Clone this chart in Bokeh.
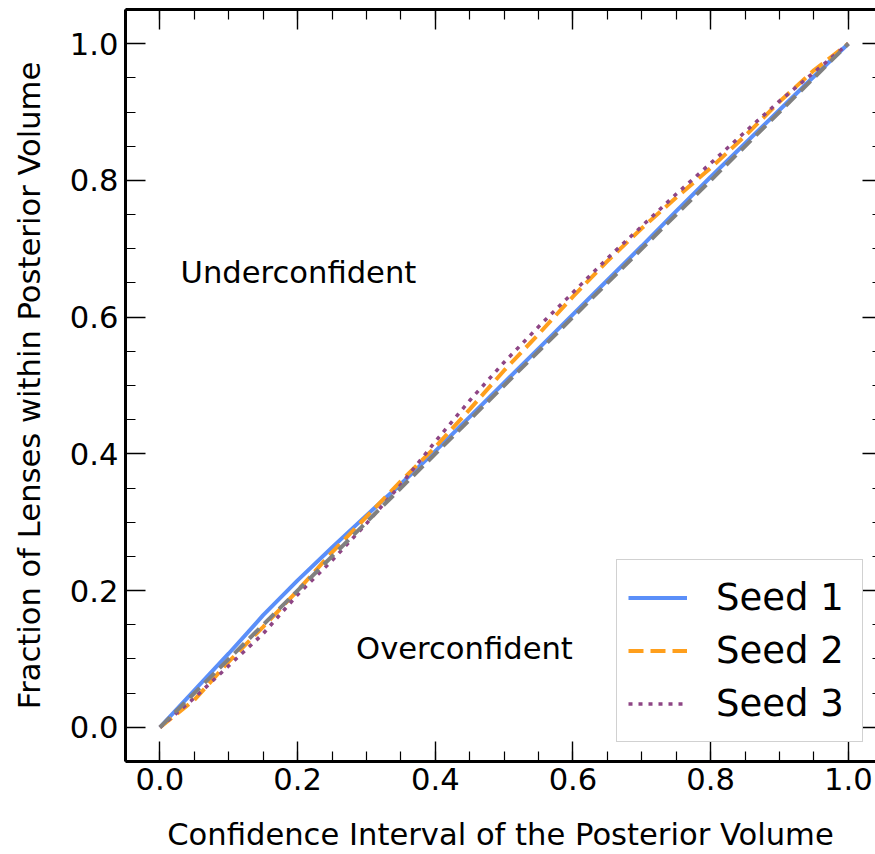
from bokeh.plotting import figure
from bokeh.models import (Range1d, LinearAxis, SingleIntervalTicker, PrintfTickFormatter,
                          CustomJSTickFormatter, Legend, LegendItem)
from bokeh.core.properties import value
from bokeh.embed import file_html
from bokeh.resources import INLINE

# ---- data ----
conf = [0.00, 0.05, 0.10, 0.15, 0.20, 0.25, 0.30, 0.35, 0.40, 0.45, 0.50,
        0.55, 0.60, 0.65, 0.70, 0.75, 0.80, 0.85, 0.90, 0.95, 1.00]
seed1 = [0.000, 0.054, 0.108, 0.164, 0.215, 0.263, 0.310, 0.356, 0.404, 0.454, 0.504,
         0.554, 0.604, 0.654, 0.704, 0.755, 0.805, 0.854, 0.903, 0.952, 1.000]
seed2 = [0.000, 0.040, 0.096, 0.147, 0.200, 0.256, 0.308, 0.360, 0.410, 0.465, 0.522,
         0.575, 0.630, 0.682, 0.730, 0.775, 0.818, 0.865, 0.915, 0.961, 1.000]
seed3 = [0.000, 0.043, 0.090, 0.137, 0.194, 0.244, 0.298, 0.355, 0.418, 0.478, 0.534,
         0.586, 0.636, 0.686, 0.733, 0.780, 0.825, 0.871, 0.916, 0.958, 1.000]
diag_x = [0.0, 1.0]
diag_y = [0.0, 1.0]
series_names = ["Seed 1", "Seed 2", "Seed 3"]

note_text = ["Underconfident", "Overconfident"]
note_x = [0.03, 0.285]
note_y = [0.665, 0.115]

FONT = "DejaVu Sans"
FS = "30.6px"

p = figure(width=875, height=854, output_backend="svg", toolbar_location=None,
           x_range=Range1d(-0.05, 1.0395), y_range=Range1d(-0.05, 1.05),
           x_axis_type=None, y_axis_type=None,
           min_border_left=125, min_border_right=0, min_border_top=9, min_border_bottom=93)
p.outline_line_color = None
p.background_fill_color = "white"
p.border_fill_color = "white"


def style_axis(ax, tick_in=20, minor_in=10, line=True):
    ax.axis_line_width = 3
    ax.axis_line_color = "black" if line else None
    ax.major_tick_in = tick_in
    ax.major_tick_out = 0
    ax.minor_tick_in = minor_in
    ax.minor_tick_out = 0
    ax.major_tick_line_width = 1.4
    ax.minor_tick_line_width = 1.2
    ax.major_tick_line_color = "black"
    ax.minor_tick_line_color = "black"


def labelled_axis(label, label_standoff, tick_standoff):
    ax = LinearAxis(ticker=SingleIntervalTicker(interval=0.2, num_minor_ticks=4),
                    formatter=PrintfTickFormatter(format="%.1f"))
    ax.axis_label = label
    ax.axis_label_text_font = FONT
    ax.axis_label_text_font_size = FS
    ax.axis_label_text_font_style = "normal"
    ax.axis_label_text_color = "black"
    ax.axis_label_standoff = label_standoff
    ax.major_label_text_font = FONT
    ax.major_label_text_font_size = FS
    ax.major_label_text_color = "black"
    ax.major_label_standoff = tick_standoff
    style_axis(ax)
    return ax


def bare_axis(tick_in, minor_in, line):
    ax = LinearAxis(ticker=SingleIntervalTicker(interval=0.2, num_minor_ticks=4),
                    formatter=CustomJSTickFormatter(code="return ''"))
    ax.major_label_text_font_size = "0px"
    ax.major_label_standoff = 0
    style_axis(ax, tick_in, minor_in, line)
    return ax


p.add_layout(labelled_axis("Confidence Interval of the Posterior Volume", 24, 6), "below")
p.add_layout(labelled_axis("Fraction of Lenses within Posterior Volume", 20, 7), "left")
p.add_layout(bare_axis(20, 10, True), "above")
p.add_layout(bare_axis(13, 3, False), "right")

r1 = p.line(conf, seed1, line_color="#5b8ff9", line_width=4)
r2 = p.line(conf, seed2, line_color="#ff9f1c", line_width=4, line_dash="15 7")
r3 = p.line(conf, seed3, line_color="#8e4585", line_width=3.5, line_dash="4 6")
p.line(diag_x, diag_y, line_color="#808080", line_width=4, line_dash="14 7")

p.text(x=note_x, y=note_y, text=note_text, text_font=value(FONT),
       text_font_size=value(FS), text_baseline="alphabetic", text_align="left",
       text_color="black")

legend = Legend(items=[LegendItem(label=series_names[0], renderers=[r1]),
                       LegendItem(label=series_names[1], renderers=[r2]),
                       LegendItem(label=series_names[2], renderers=[r3])],
                location=(491, 19), margin=0, padding=11, spacing=0,
                glyph_width=59, glyph_height=53, label_height=53, label_width=135,
                label_standoff=29, label_text_font=FONT, label_text_font_size="37px",
                label_text_color="black",
                border_line_color="#cccccc", border_line_width=1.2, border_line_alpha=0.9,
                background_fill_color="white", background_fill_alpha=0.8)
p.add_layout(legend)

open("out.html", "w").write(file_html(p, INLINE))
